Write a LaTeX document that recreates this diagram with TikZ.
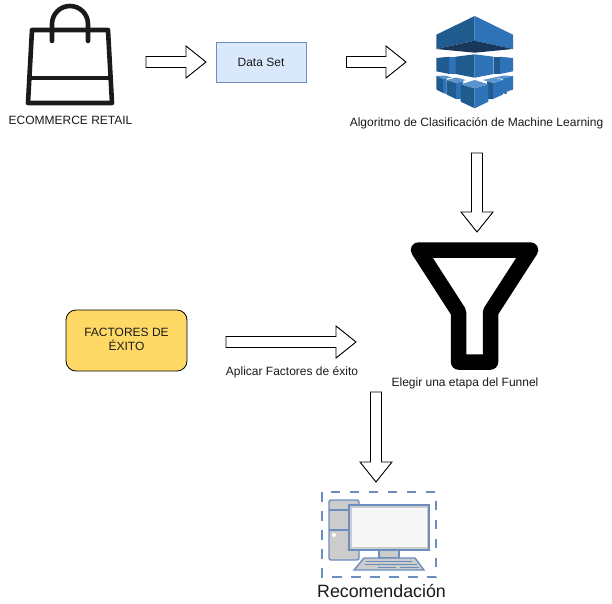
\documentclass[tikz,border=0pt]{standalone}
\usepackage{fontspec}
\setmainfont{Liberation Sans}
\usetikzlibrary{calc}
\definecolor{cubeL}{HTML}{205B8F}
\definecolor{cubeR}{HTML}{2E73B8}
\definecolor{cubeD}{HTML}{19375A}
\definecolor{cubeT}{HTML}{5A94CC}
\definecolor{pcblue}{HTML}{6C8EBF}
\definecolor{dsfill}{HTML}{DAE8FC}
\definecolor{factfill}{HTML}{FFD966}
\definecolor{txt}{HTML}{1A1A1A}
\tikzset{
  blockh/.style={draw=black,fill=white,line width=0.9pt,to path={
    ($(\tikztotarget)!20pt!(\tikztostart)$) coordinate (bb)
    ($(\tikztostart)!5.5pt!90:(\tikztotarget)$) -- ($(bb)!5.5pt!90:(\tikztotarget)$)
    -- ($(bb)!16pt!90:(\tikztotarget)$) -- (\tikztotarget) -- ($(bb)!16pt!-90:(\tikztotarget)$)
    -- ($(bb)!5.5pt!-90:(\tikztotarget)$) -- ($(\tikztostart)!5.5pt!-90:(\tikztotarget)$) -- cycle}},
  lbl/.style={font=\fontsize{12}{14}\selectfont,text=txt,inner sep=0pt,align=center},
  bagline/.style={draw=txt,line width=4.6pt,line join=round,line cap=round},
  funnelline/.style={draw=black,line width=15.5pt,line join=round,line cap=round},
  pcline/.style={draw=pcblue,line width=1.4pt},
  fL/.style={fill=cubeL,draw=none},
  fR/.style={fill=cubeR,draw=none},
  fD/.style={fill=cubeD,draw=none},
  fT/.style={fill=cubeT,draw=none},
}
\begin{document}
\begin{tikzpicture}[x=1pt,y=-1pt]
\useasboundingbox (0,0) rectangle (612,603);
% bag
\draw[bagline] (32,30) -- (108,30) -- (112,103) -- (28,103) -- cycle;
\draw[bagline,line width=3.4pt,line cap=butt] (31,78) -- (109,78);
\draw[bagline] (52,41) -- (52,24) arc[start angle=180,end angle=360,radius=18] -- (88,41);
\node[lbl] (bag) at (70.5,120.5) {ECOMMERCE RETAIL};
% data set
\node[draw=pcblue,fill=dsfill,line width=0.8pt,minimum width=90pt,minimum height=40pt,inner sep=0pt,
  font=\fontsize{12}{14}\selectfont,text=txt] (ds) at (261,62) {Data Set};
% cube: top slab
\fill[fL] (474.7,16) -- (436.3,34.7) -- (436.3,49) -- (474.7,40.7) -- cycle;
\fill[fR] (474.7,16) -- (513,34.7) -- (513,49) -- (474.7,40.7) -- cycle;
\fill[fD] (436.3,49) -- (474.7,40.7) -- (513,49) -- (474.7,52.7) -- cycle;
% middle row
\fill[fL] (436.3,58) -- (449.3,56.7) -- (449.3,74) -- (436.3,71.3) -- cycle;
\fill[fR] (449.3,56.7) -- (455.7,56.7) -- (455.7,74) -- (449.3,74) -- cycle;
\fill[fL] (493.7,56.7) -- (500,56.7) -- (500,74) -- (493.7,74) -- cycle;
\fill[fR] (500,56.7) -- (513,58) -- (513,71.3) -- (500,74) -- cycle;
\fill[fL] (455.7,56.7) -- (474.7,54.3) -- (474.7,77.7) -- (455.7,74) -- cycle;
\fill[fR] (493.7,56.7) -- (474.7,54.3) -- (474.7,77.7) -- (493.7,74) -- cycle;
% bottom row, back
\fill[fL] (436.3,76) -- (443,77) -- (443,93) -- (436.3,89.5) -- cycle;
\fill[fR] (443,77) -- (446.5,77.5) -- (446.5,94) -- (443,93) -- cycle;
\fill[fT] (436.3,76) -- (445,75.5) -- (452,77.5) -- (443,79) -- cycle;
\fill[fL] (506.5,77.5) -- (503,77) -- (503,93) -- (506.5,94) -- cycle;
\fill[fR] (503,77) -- (513,76) -- (513,89.5) -- (503,93) -- cycle;
\fill[fT] (513,76) -- (504,75.5) -- (494,77.5) -- (503,79) -- cycle;
% bottom row, middle
\fill[fL] (446.5,80) -- (456,83) -- (456,99) -- (446.5,94.5) -- cycle;
\fill[fR] (456,83) -- (463,81) -- (463,99) -- (456,99) -- cycle;
\fill[fT] (446.5,80) -- (456,77.5) -- (466,80) -- (456,83) -- cycle;
\fill[fL] (487,81) -- (493,83) -- (493,99) -- (487,99) -- cycle;
\fill[fR] (493,83) -- (503,80) -- (503,94.5) -- (493,99) -- cycle;
\fill[fT] (503,80) -- (494,77.5) -- (483,80) -- (493,83) -- cycle;
% bottom row, front
\fill[fL] (460.7,84.3) -- (474.7,88.3) -- (474.7,108.3) -- (460.7,101.7) -- cycle;
\fill[fR] (488.3,84.3) -- (474.7,88.3) -- (474.7,108.3) -- (488.3,101.7) -- cycle;
\fill[fT] (474.7,80) -- (460.7,84.3) -- (474.7,88.3) -- (488.3,84.3) -- cycle;
\node[lbl] (algo) at (476.5,123.5) {Algoritmo de Clasificación de Machine Learning};
% funnel
\draw[funnelline] (418.5,250) -- (530.5,250) -- (490.5,312) -- (490.5,362) -- (458.5,362) -- (458.5,312) -- cycle;
\node[lbl] (funnel) at (465,383.5) {Elegir una etapa del Funnel};
% factores
\node[draw=black,fill=factfill,rounded corners=10pt,line width=0.8pt,minimum width=121pt,minimum height=61pt,
  inner sep=0pt,font=\fontsize{12}{14.5}\selectfont,text=txt,align=center] (fact) at (126.5,340.5)
  {\raisebox{6pt}{\begin{tabular}{@{}c@{}}FACTORES DE\\[-1pt]ÉXITO\end{tabular}}};
\node[lbl] (apl) at (292,372.5) {Aplicar Factores de éxito};
% computer
\draw[pcline,line width=1.5pt,dash pattern=on 9.5pt off 9.5pt] (322,492) rectangle (436,577);
\draw[pcline,fill=black!20,rounded corners=2pt] (329,500) rectangle (359,560);
\draw[pcline] (329,510) -- (359,510) (329,530) -- (349,530);
\fill[white] (334,535) circle (2pt);
\draw[pcline,fill=black!20] (379,550) rectangle (399,558);
\draw[pcline,fill=black!20] (354,570) -- (424,570) -- (415,558) -- (364,558) -- cycle;
\draw[pcline,line width=1pt] (366,561) -- (412,561) (365,564) -- (417,564) (378,567) -- (396,567) (400,567) -- (419,567);
\draw[pcline,fill=black!20] (349,505) rectangle (429,550);
\fill[white!97!black] (351.5,507.5) rectangle (426.5,547);
\node[font=\fontsize{17.8}{21}\selectfont,text=txt,inner sep=0pt] (rec) at (381.5,591) {Recomendación};
% arrows
\coordinate (a1s) at (146,62); \coordinate (a1e) at (206,62);
\coordinate (a2s) at (346.5,62); \coordinate (a2e) at (406,62);
\coordinate (a3s) at (477,153); \coordinate (a3e) at (477,232);
\coordinate (a4s) at (226,342); \coordinate (a4e) at (356,342);
\coordinate (a5s) at (376,392); \coordinate (a5e) at (376,482);
\draw[blockh] (a1s) to (a1e);
\draw[blockh] (a2s) to (a2e);
\draw[blockh] (a3s) to (a3e);
\draw[blockh] (a4s) to (a4e);
\draw[blockh] (a5s) to (a5e);
\end{tikzpicture}
\end{document}
